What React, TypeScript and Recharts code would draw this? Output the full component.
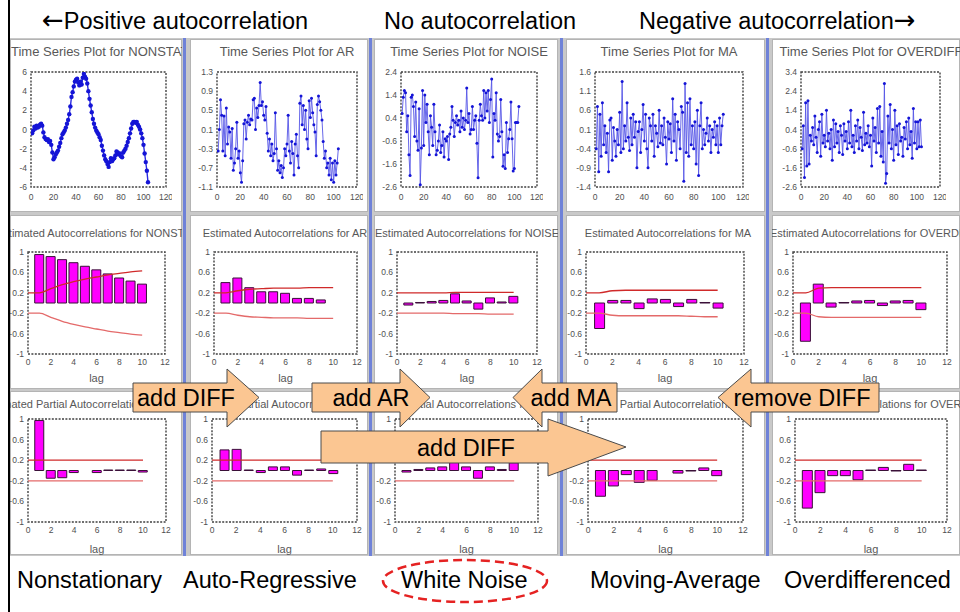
import React from 'react';
import { LineChart, ComposedChart, Line, Bar, XAxis, YAxis, ReferenceArea } from 'recharts';

const FONT = '"Liberation Sans", Arial, Helvetica, sans-serif';
const ARROW_FONT = '"DejaVu Sans", "Liberation Sans", sans-serif';

// ---------- DATA ----------
const tsNonstat = [
  -0.4, -0.1, 0.3, 0.1, 0.4, 0.2, 0.3, 0.5, 0.6, 0.4,
  -0.3, -0.8, -1.0, -1.1, -1.0, -1.3, -1.2, -1.6, -2.4, -3.1,
  -2.9, -2.6, -2.4, -2.2, -1.8, -1.4, -0.9, -0.5, -0.3, -0.1,
  0.2, 0.6, 1.0, 1.6, 2.4, 3.4, 3.9, 4.5, 5.0, 5.2,
  5.3, 4.9, 4.6, 5.0, 4.7, 5.4, 5.8, 5.5, 5.3, 4.8,
  4.0, 3.2, 2.5, 1.8, 1.1, 0.6, 0.2, -0.1, -0.3, -0.5,
  -0.8, -1.1, -1.7, -2.2, -2.7, -3.1, -3.3, -3.6, -3.9, -3.4,
  -3.0, -3.3, -3.1, -3.0, -2.7, -2.3, -2.4, -2.6, -2.5, -2.8,
  -2.9, -2.4, -2.2, -2.0, -1.7, -1.3, -0.9, -0.4, 0.1, 0.6,
  0.8, 0.8, 0.7, 0.8, 0.5, 0.3, 0.0, -0.4, -0.9, -1.6,
  -2.5, -3.4, -4.3, -5.5,
];
const tsAR = [
  -0.35, 0.1, 0.72, 0.4, -0.35, 0.38, -0.45, 0.55, -0.2, 0.15,
  0.05, -0.5, 0.12, -0.75, -0.6, -0.3, 0.25, -0.5, -0.35, -0.8,
  -1.0, -0.55, 0.22, 0.3, -0.1, 0.25, 0.4, 0.2, 0.32, 0.3,
  0.72, 0.75, 0.1, 0.55, 0.35, 0.6, 1.08, 0.6, 0.68, 0.4,
  0.3, 0.58, 0.02, -0.35, -0.1, -0.45, -0.2, -0.55, -0.4, 0.45,
  -0.3, -0.75, -0.55, -0.8, -0.65, -0.9, -0.7, -0.3, -0.45, -0.2,
  0.4, -0.35, -0.6, -0.15, -0.4, -0.85, -0.2, 0.0, -0.45, -0.7,
  0.65, 0.8, 0.2, 0.6, 0.1, 0.5, -0.1, -0.3, 0.7, 0.35,
  0.75, 0.45, 0.2, 0.05, -0.45, 0.62, 0.8, 0.68, 0.5, 0.3,
  -0.15, -0.5, -0.35, -0.7, -0.6, -0.85, -0.5, -0.95, -0.6, -1.0,
  -0.55, -0.85, -0.6, -0.3,
];
const tsNoise = [
  0.6, 1.3, 1.6, 1.5, -0.2, 0.5, -1.2, -2.1, 1.3, 1.4,
  0.9, -0.4, 1.1, -0.6, -1.0, 0.8, -2.5, -0.9, 1.6, -0.8,
  1.4, 0.2, 1.0, -0.2, -1.2, 0.5, 0.0, -0.8, 1.0, -0.2,
  -1.2, -1.0, -0.6, 0.1, -1.1, -0.8, -0.2, -1.3, -0.5, -0.6,
  -0.4, -1.4, -0.3, 0.0, 0.9, 0.3, -0.4, 0.2, 0.5, 0.1,
  0.3, -0.2, 0.7, 0.0, 0.4, -0.1, 0.3, 1.7, 0.2, 0.6,
  -0.3, -0.1, 0.9, -0.1, 0.3, 0.5, -0.7, -2.2, 0.3, 1.0,
  0.5, 0.3, 1.6, 0.4, 1.5, 0.7, 1.6, 0.2, 1.2, 2.1,
  -1.3, 0.6, 0.3, 1.5, -0.3, -0.6, -0.4, 1.2, -0.2, -1.7,
  -1.2, -1.8, 0.2, -1.1, -0.5, -0.1, 1.1, -0.5, -1.9, -1.8,
  0.2, 0.2, 0.2, 0.9,
];
const tsMA = [
  -0.4, 0.7, -1.0, 0.5, -0.6, 0.8, -0.3, 0.2, -0.5, 0.0,
  -1.0, 0.35, 0.4, -0.7, 0.15, -0.2, -0.6, 0.1, -0.3, 0.55,
  -0.5, 1.35, -0.4, 0.2, -0.2, 0.8, -0.1, -0.45, 0.4, -0.3,
  0.5, -0.1, 0.3, -0.9, 0.05, 0.3, -0.5, 0.1, 0.75, -0.2,
  0.5, -0.4, -0.9, 0.4, 0.2, -0.2, 0.5, -0.6, 0.2, 0.0,
  -0.35, 0.6, -0.25, 0.2, -0.3, 0.4, -0.1, -0.8, 0.3, -0.15,
  0.25, -0.5, 0.9, -0.2, 0.5, -0.7, 0.3, 0.1, -0.4, 0.7,
  0.55, -1.25, 1.3, -0.5, 0.8, -0.6, 0.9, -0.3, 0.2, -0.4,
  0.3, -0.8, 0.6, -1.1, 0.2, 0.8, -0.4, 0.1, -0.3, 0.0,
  0.4, -0.2, 0.2, -0.5, 0.1, -0.1, 0.3, -0.3, 0.2, -0.5,
  0.4, -0.3, 0.2, 0.5,
];
const tsOverdiff = [
  -0.6, 0.6, -2.1, 1.8, -1.5, 1.9, -1.4, 0.1, -0.2, 0.5,
  -0.4, 1.1, 0.0, -0.8, 0.4, 0.8, -1.0, 1.2, -0.3, 0.1,
  -0.5, 1.4, -0.2, 0.2, -0.6, 0.4, -1.2, 0.9, -0.5, 0.7,
  -0.3, 0.3, -0.8, 0.6, 0.1, -0.9, 0.7, -0.2, 0.3, -0.6,
  0.8, -0.3, 1.4, -0.5, 0.1, -0.8, 0.6, -0.2, 0.9, -0.6,
  0.5, 0.0, -0.7, 1.3, -0.4, 0.2, -0.3, 0.6, -0.5, 0.1,
  -1.5, 1.0, -0.2, 0.5, -0.8, 1.5, -0.3, 1.6, -1.0, 0.3,
  -1.3, 2.8, -2.4, -1.9, 1.1, -0.3, 1.7, -0.6, 0.4, -1.2,
  1.4, -0.4, 0.6, -0.9, 0.7, -0.2, 0.0, -1.0, 0.5, -0.1,
  0.8, -0.6, 1.0, -0.4, 0.3, -1.1, 1.5, -0.3, 0.8, -0.6,
  0.8, -0.5, 0.9, -0.5,
];

const tsXTicks = [0, 20, 40, 60, 80, 100, 120];
const tsYTicksNonstat = [-6, -4, -2, 0, 2, 4, 6];
const tsYTicksAR = [-1.1, -0.7, -0.3, 0.1, 0.5, 0.9, 1.3];
const tsYTicksNoise = [-2.6, -1.6, -0.6, 0.4, 1.4, 2.4];
const tsYTicksMA = [-1.4, -0.9, -0.4, 0.1, 0.6, 1.1, 1.6];
const tsYTicksOverdiff = [-2.6, -1.6, -0.6, 0.4, 1.4, 2.4, 3.4];

const lagXTicks = [0, 2, 4, 6, 8, 10, 12];
const corrYTicks = [-1, -0.6, -0.2, 0.2, 0.6, 1];
const lags = [1, 2, 3, 4, 5, 6, 7, 8, 9, 10];

const acfNonstat = [0.95, 0.91, 0.85, 0.79, 0.72, 0.65, 0.57, 0.49, 0.43, 0.37];
const acfAR = [0.4, 0.49, 0.3, 0.22, 0.22, 0.19, 0.09, 0.09, 0.06];
const acfNoise = [-0.04, 0.01, 0.03, 0.05, 0.18, 0.04, -0.12, 0.1, 0.02, 0.13];
const acfMA = [-0.5, 0.05, 0.05, -0.11, 0.08, 0.07, -0.07, 0.07, 0.01, -0.1];
const acfOverdiff = [-0.75, 0.37, -0.08, 0.01, 0.04, 0.05, -0.05, 0.04, 0.05, -0.13];

const limitLags = [0, 1, 2, 3, 4, 5, 6, 7, 8, 9, 10];
const acfUpperNonstat = [0.2, 0.2, 0.28, 0.36, 0.42, 0.47, 0.51, 0.55, 0.58, 0.61, 0.63];
const acfLowerNonstat = [-0.2, -0.2, -0.28, -0.36, -0.42, -0.47, -0.51, -0.55, -0.58, -0.61, -0.63];
const acfUpperAR = [0.2, 0.2, 0.24, 0.27, 0.28, 0.29, 0.29, 0.29, 0.3, 0.3, 0.3];
const acfLowerAR = [-0.2, -0.2, -0.24, -0.27, -0.28, -0.29, -0.29, -0.29, -0.3, -0.3, -0.3];
const acfUpperNoise = [0.2, 0.2, 0.2, 0.2, 0.2, 0.21, 0.21, 0.21, 0.21, 0.21, 0.21];
const acfLowerNoise = [-0.2, -0.2, -0.2, -0.2, -0.2, -0.21, -0.21, -0.21, -0.22, -0.22, -0.22];
const acfUpperMA = [0.2, 0.2, 0.24, 0.25, 0.25, 0.25, 0.25, 0.25, 0.25, 0.25, 0.25];
const acfLowerMA = [-0.2, -0.2, -0.24, -0.25, -0.25, -0.25, -0.25, -0.25, -0.26, -0.27, -0.27];
const acfUpperOverdiff = [0.2, 0.2, 0.29, 0.3, 0.3, 0.3, 0.3, 0.3, 0.3, 0.3, 0.3];
const acfLowerOverdiff = [-0.2, -0.2, -0.27, -0.28, -0.28, -0.28, -0.28, -0.28, -0.28, -0.28, -0.28];

const pacfNonstat = [0.97, -0.15, -0.14, -0.04, 0, -0.04, 0.01, 0.01, 0.01, -0.03];
const pacfAR = [0.4, 0.41, 0.01, -0.04, 0.07, 0.07, -0.09, 0.01, 0.03, -0.06];
const pacfNoise = [-0.03, 0.02, 0.05, 0.07, 0.17, 0.07, -0.15, 0.07, 0.02, 0.15];
const pacfMA = [-0.5, -0.3, -0.08, -0.23, -0.19, 0, -0.05, -0.01, 0.05, -0.1];
const pacfOverdiff = [-0.73, -0.43, -0.1, -0.1, -0.18, 0.01, 0.06, -0.01, 0.12, 0.01];
const pacfLimitLags = [0, 10];
const pacfUpper = [0.2, 0.2];
const pacfLower = [-0.2, -0.2];

const headerLabels = ['Positive autocorrelation', 'No autocorrelation', 'Negative autocorrelation'];
const headerArrows = ['←', '→'];
const footerLabels = ['Nonstationary', 'Auto-Regressive', 'White Noise', 'Moving-Average', 'Overdifferenced'];
const arrowLabels = ['add DIFF', 'add AR', 'add MA', 'remove DIFF', 'add DIFF'];
const seriesNames = ['NONSTATIONARY', 'AR', 'NOISE', 'MA', 'OVERDIFF'];

// ---------- LAYOUT ----------
const PANEL_X = [10, 190, 374, 566, 772];
const PANEL_W = [172, 178, 184, 199, 188];
const PANEL_Y = [39, 215, 391];
const PANEL_H = [173, 174, 164];
const BLUE_X = [183, 369, 560, 766];

const TS_X = [[31, 166], [217, 357], [401, 537], [595, 743], [801, 940]];
const ACF_X = [[28, 165], [214, 357], [397, 537], [586, 744], [793, 947]];
const PACF_X = [[28, 166], [212, 357], [395, 538], [588, 743], [795, 947]];
const TS_Y = [72, 187];
const ACF_Y = [252, 354];
const PACF_Y = [419, 522];

const tickStyle = { fontSize: 8.5, fill: '#505050', fontFamily: FONT };
const FRAME = '#404040';

function TsChart({ px, py, xr, values, yTicks, big }: any) {
  const data = values.map((v: number, i: number) => ({ t: i + 1, v }));
  const L = 34, R = 6, T = 6, B = 20;
  const [x0, x1] = xr;
  const [y0, y1] = TS_Y;
  const ymin = yTicks[0];
  const ymax = yTicks[yTicks.length - 1];
  return (
    <div style={{ position: 'absolute', left: x0 - L - px, top: y0 - T - py }}>
      <LineChart width={x1 - x0 + L + R} height={y1 - y0 + T + B} data={data}
        margin={{ top: T, right: R, left: 0, bottom: 0 }}>
        <XAxis type="number" dataKey="t" domain={[0, 120]} ticks={tsXTicks} interval={0}
          tick={tickStyle} tickLine={false} axisLine={false} tickSize={5} tickMargin={2}
          height={B} allowDataOverflow />
        <YAxis type="number" domain={[ymin, ymax]} ticks={yTicks} interval={0}
          tick={tickStyle} tickLine={false} axisLine={false} tickSize={2} tickMargin={2}
          width={L} allowDataOverflow />
        <ReferenceArea x1={0} x2={120} y1={ymin} y2={ymax} fill="none" fillOpacity={0}
          stroke={FRAME} strokeWidth={1.4} strokeDasharray="2 1.4" ifOverflow="visible" />
        <Line type="linear" dataKey="v" stroke={big ? '#2a2ae0' : '#5656e6'}
          strokeWidth={big ? 1.4 : 0.9}
          dot={{ r: big ? 2.2 : 1.5, fill: '#1414d6', stroke: 'none' }}
          isAnimationActive={false} />
      </LineChart>
    </div>
  );
}

function CorrChart({ px, py, xr, yr, values, upper, lower, limLags, smooth }: any) {
  const data = values.map((v: number, i: number) => ({ lag: lags[i], v }));
  const upData = limLags.map((lag: number, i: number) => ({ lag, u: upper[i] }));
  const loData = limLags.map((lag: number, i: number) => ({ lag, l: lower[i] }));
  const L = 30, R = 6, T = 6, B = 18;
  const [x0, x1] = xr;
  const [y0, y1] = yr;
  const unit = (x1 - x0) / 12;
  return (
    <div style={{ position: 'absolute', left: x0 - L - px, top: y0 - T - py }}>
      <ComposedChart width={x1 - x0 + L + R} height={y1 - y0 + T + B} data={data}
        margin={{ top: T, right: R, left: 0, bottom: 0 }}>
        <XAxis type="number" dataKey="lag" domain={[0, 12]} ticks={lagXTicks} interval={0}
          tick={tickStyle} tickLine={false} axisLine={false} tickSize={3} tickMargin={2}
          height={B} allowDataOverflow />
        <YAxis type="number" domain={[-1, 1]} ticks={corrYTicks} interval={0}
          tick={tickStyle} tickLine={false} axisLine={false} tickSize={2} tickMargin={2}
          width={L} allowDataOverflow />
        <ReferenceArea x1={0} x2={12} y1={-1} y2={1} fill="none" fillOpacity={0}
          stroke={FRAME} strokeWidth={1.4} strokeDasharray="2 1.4" ifOverflow="visible" />
        <Line data={upData} type={smooth ? 'monotone' : 'linear'} dataKey="u" stroke="#d02a2a"
          strokeWidth={1.3} dot={false} isAnimationActive={false} />
        <Line data={loData} type={smooth ? 'monotone' : 'linear'} dataKey="l" stroke="#e46a6a"
          strokeWidth={1.3} dot={false} isAnimationActive={false} />
        <Bar dataKey="v" fill="#ff00ff" stroke="#3a1038" strokeWidth={1}
          barSize={Math.round(unit * 0.78)} isAnimationActive={false} />
      </ComposedChart>
    </div>
  );
}

function Title({ px, py, text, yc, size, start, center }: any) {
  const lh = size + 4;
  const style: any = {
    position: 'absolute', top: yc - lh / 2 - py, fontSize: size, lineHeight: lh + 'px',
    whiteSpace: 'nowrap', color: '#585858', fontFamily: FONT,
  };
  if (start !== undefined) {
    style.left = start - px;
  } else {
    style.left = center - 200 - px;
    style.width = 400;
    style.textAlign = 'center';
  }
  return <div style={style}>{text}</div>;
}

function LagLabel({ px, py, xc, yc }: any) {
  return (
    <div style={{
      position: 'absolute', left: xc - 20 - px, top: yc - 7 - py, width: 40, textAlign: 'center',
      fontSize: 11, lineHeight: '14px', color: '#585858', fontFamily: FONT,
    }}>lag</div>
  );
}

const tsValues = [tsNonstat, tsAR, tsNoise, tsMA, tsOverdiff];
const tsTicks = [tsYTicksNonstat, tsYTicksAR, tsYTicksNoise, tsYTicksMA, tsYTicksOverdiff];
const acfValues = [acfNonstat, acfAR, acfNoise, acfMA, acfOverdiff];
const acfUppers = [acfUpperNonstat, acfUpperAR, acfUpperNoise, acfUpperMA, acfUpperOverdiff];
const acfLowers = [acfLowerNonstat, acfLowerAR, acfLowerNoise, acfLowerMA, acfLowerOverdiff];
const pacfValues = [pacfNonstat, pacfAR, pacfNoise, pacfMA, pacfOverdiff];

const titlePos1: any[] = [{ start: 11 }, { center: 287 }, { center: 469 }, { center: 669 }, { center: 871 }];
const titlePos2: any[] = [{ start: -4 }, { center: 285 }, { start: 375 }, { center: 668 }, { start: 770 }];
const titlePos3: any[] = [{ start: -16 }, { center: 285 }, { start: 351 }, { center: 668 }, { center: 866 }];

function Panel({ col, row, children }: any) {
  return (
    <div style={{
      position: 'absolute', left: PANEL_X[col], top: PANEL_Y[row], width: PANEL_W[col],
      height: PANEL_H[row], background: '#ffffff', overflow: 'hidden',
      boxShadow: 'inset 0 0 0 1px #b4b4b4',
    }}>{children}</div>
  );
}

function rightArrow(x0: number, base: number, tip: number, bt: number, bb: number, ht: number, hb: number) {
  const mid = (bt + bb) / 2;
  return `${x0},${bt} ${base},${bt} ${base},${ht} ${tip},${mid} ${base},${hb} ${base},${bb} ${x0},${bb}`;
}
function leftArrow(x1: number, base: number, tip: number, bt: number, bb: number, ht: number, hb: number) {
  const mid = (bt + bb) / 2;
  return `${x1},${bt} ${base},${bt} ${base},${ht} ${tip},${mid} ${base},${hb} ${base},${bb} ${x1},${bb}`;
}

export default function App() {
  const cols = [0, 1, 2, 3, 4];
  const arrowFill = '#fbc692';
  const arrowStroke = '#4a4a4a';
  const big = 23.5;
  return (
    <div style={{
      position: 'absolute', left: 0, top: 0, width: 960, height: 612, background: '#ffffff',
      overflow: 'hidden', fontFamily: FONT,
    }}>
      <div style={{ position: 'absolute', left: 10, top: 38, width: 950, height: 518, background: '#c9c9c9' }} />
      {BLUE_X.map((x) => (
        <div key={x} style={{ position: 'absolute', left: x, top: 38, width: 3, height: 518, background: '#6f82d8' }} />
      ))}

      {cols.map((c) => (
        <Panel key={'r1' + c} col={c} row={0}>
          <Title px={PANEL_X[c]} py={PANEL_Y[0]} yc={51} size={13}
            text={'Time Series Plot for ' + seriesNames[c]} {...titlePos1[c]} />
          <TsChart px={PANEL_X[c]} py={PANEL_Y[0]} xr={TS_X[c]} values={tsValues[c]}
            yTicks={tsTicks[c]} big={c === 0} />
        </Panel>
      ))}
      {cols.map((c) => (
        <Panel key={'r2' + c} col={c} row={1}>
          <Title px={PANEL_X[c]} py={PANEL_Y[1]} yc={233} size={11}
            text={'Estimated Autocorrelations for ' + seriesNames[c]} {...titlePos2[c]} />
          <CorrChart px={PANEL_X[c]} py={PANEL_Y[1]} xr={ACF_X[c]} yr={ACF_Y}
            values={acfValues[c]} upper={acfUppers[c]} lower={acfLowers[c]} limLags={limitLags} smooth />
          <LagLabel px={PANEL_X[c]} py={PANEL_Y[1]} xc={(ACF_X[c][0] + ACF_X[c][1]) / 2} yc={378} />
        </Panel>
      ))}
      {cols.map((c) => (
        <Panel key={'r3' + c} col={c} row={2}>
          <Title px={PANEL_X[c]} py={PANEL_Y[2]} yc={404} size={11}
            text={'Estimated Partial Autocorrelations for ' + seriesNames[c]} {...titlePos3[c]} />
          <CorrChart px={PANEL_X[c]} py={PANEL_Y[2]} xr={PACF_X[c]} yr={PACF_Y}
            values={pacfValues[c]} upper={pacfUpper} lower={pacfLower} limLags={pacfLimitLags} />
          <LagLabel px={PANEL_X[c]} py={PANEL_Y[2]} xc={(PACF_X[c][0] + PACF_X[c][1]) / 2} yc={549} />
        </Panel>
      ))}

      <div style={{ position: 'absolute', left: 8, top: 0, width: 2, height: 612, background: '#000' }} />

      <svg width={960} height={612} style={{ position: 'absolute', left: 0, top: 0 }}>
        <g fontFamily={FONT} fontSize={big} fill="#000">
          <text x={42} y={29}>
            <tspan fontFamily={ARROW_FONT} fontSize={26}>{headerArrows[0]}</tspan>
            <tspan>{headerLabels[0]}</tspan>
          </text>
          <text x={384} y={29}>{headerLabels[1]}</text>
          <text x={639} y={29}>
            <tspan>{headerLabels[2]}</tspan>
            <tspan fontFamily={ARROW_FONT} fontSize={26}>{headerArrows[1]}</tspan>
          </text>

          <text x={17} y={588}>{footerLabels[0]}</text>
          <text x={183} y={588}>{footerLabels[1]}</text>
          <text x={401} y={588}>{footerLabels[2]}</text>
          <text x={590} y={588}>{footerLabels[3]}</text>
          <text x={784} y={588}>{footerLabels[4]}</text>
        </g>
        <ellipse cx={465} cy={581} rx={82} ry={21} fill="none" stroke="#e52222" strokeWidth={2.5}
          strokeDasharray="9 5" />

        <g stroke={arrowStroke} strokeWidth={1} fill={arrowFill}>
          <polygon points={rightArrow(133, 227, 259, 383, 412, 369, 427)} />
          <polygon points={rightArrow(312, 400, 430, 383, 412, 369, 427)} />
          <polygon points={leftArrow(617, 542, 513, 383, 412, 369, 427)} />
          <polygon points={leftArrow(879, 751, 718, 383, 412, 369, 427)} />
          <polygon points={rightArrow(321, 548, 626, 431, 463, 419, 476)} />
        </g>
        <g fontFamily={FONT} fontSize={big} fill="#000" textAnchor="middle">
          <text x={186} y={406}>{arrowLabels[0]}</text>
          <text x={371} y={406}>{arrowLabels[1]}</text>
          <text x={571} y={406}>{arrowLabels[2]}</text>
          <text x={802} y={406}>{arrowLabels[3]}</text>
          <text x={466} y={456}>{arrowLabels[4]}</text>
        </g>
      </svg>
    </div>
  );
}
